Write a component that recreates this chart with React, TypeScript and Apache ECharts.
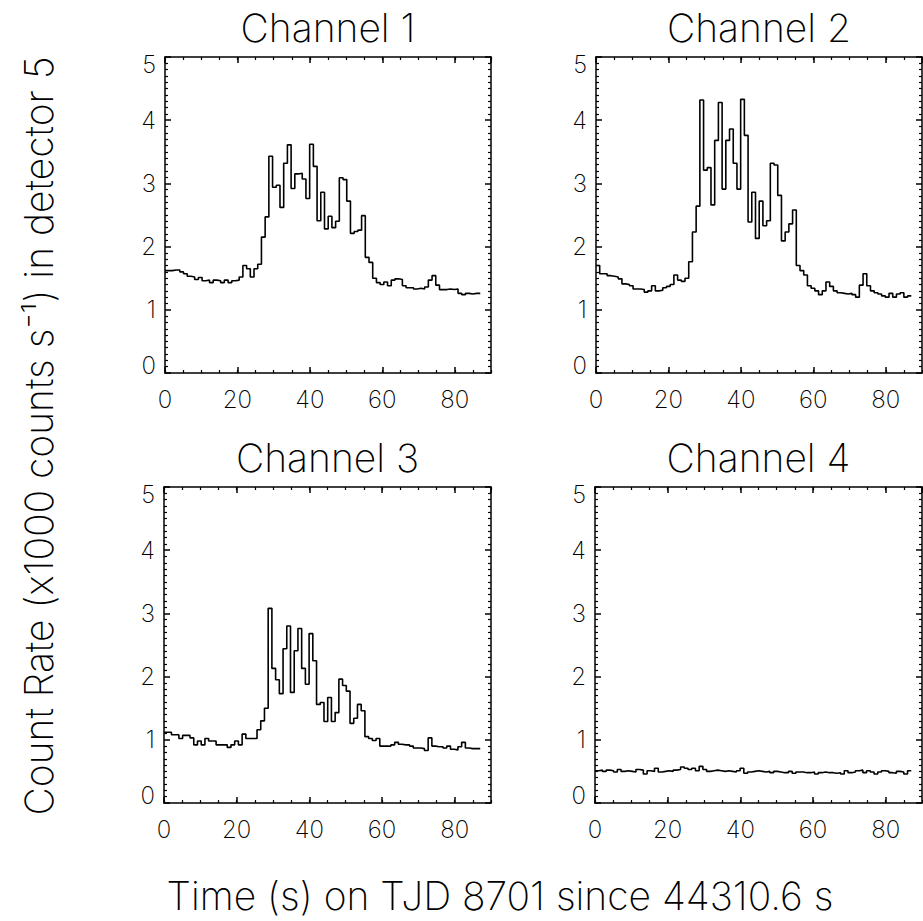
import React, { useEffect, useRef } from 'react';
import * as echarts from 'echarts';

// ---------- data ----------
const BIN_WIDTH = 1.024; // seconds per time bin
const X_MIN = 0;
const X_MAX = 90;
const X_MAJOR = 20;
const X_MINOR = 5;
const Y_MIN = 0;
const Y_MAX = 5;
const Y_MAJOR = 1;

const CHANNEL_TITLES = ['Channel 1', 'Channel 2', 'Channel 3', 'Channel 4'];
const Y_TITLE = 'Count Rate (x1000 counts s\u207B\u00B9) in detector 5';
const X_TITLE = 'Time (s) on TJD 8701 since 44310.6 s';

const CH1 = [
  1.62, 1.62, 1.63, 1.63, 1.60, 1.57, 1.53, 1.52, 1.48, 1.51,
  1.46, 1.47, 1.43, 1.47, 1.46, 1.43, 1.47, 1.43, 1.46, 1.47,
  1.52, 1.70, 1.65, 1.52, 1.65, 1.72, 2.15, 2.47, 3.43, 2.94,
  2.97, 2.62, 3.32, 3.61, 2.92, 3.15, 3.16, 3.07, 2.76, 3.62,
  3.27, 2.41, 2.86, 2.28, 2.48, 2.30, 2.40, 3.09, 3.06, 2.72,
  2.21, 2.24, 2.26, 2.49, 1.83, 1.75, 1.50, 1.43, 1.40, 1.44,
  1.38, 1.47, 1.49, 1.48, 1.38, 1.35, 1.35, 1.33, 1.34, 1.33,
  1.36, 1.47, 1.54, 1.39, 1.32, 1.32, 1.33, 1.32, 1.33, 1.26,
  1.24, 1.26, 1.25, 1.26, 1.26,
];

const CH2 = [
  1.70, 1.57, 1.57, 1.54, 1.53, 1.52, 1.49, 1.41, 1.40, 1.38,
  1.33, 1.33, 1.32, 1.28, 1.30, 1.38, 1.30, 1.31, 1.35, 1.37,
  1.40, 1.55, 1.47, 1.45, 1.50, 1.76, 2.23, 2.64, 4.32, 3.21,
  3.25, 2.66, 3.68, 4.28, 2.91, 3.68, 3.86, 3.32, 2.91, 4.33,
  3.76, 2.39, 2.86, 2.13, 2.72, 2.33, 2.41, 3.32, 3.29, 2.81,
  2.09, 2.23, 2.36, 2.58, 1.70, 1.62, 1.55, 1.38, 1.34, 1.30,
  1.24, 1.30, 1.44, 1.37, 1.30, 1.27, 1.26, 1.25, 1.26, 1.24,
  1.20, 1.39, 1.57, 1.38, 1.30, 1.27, 1.25, 1.22, 1.20, 1.26,
  1.20, 1.25, 1.27, 1.20, 1.22,
];

const CH3 = [
  1.12, 1.12, 1.08, 1.08, 1.02, 1.07, 1.07, 1.03, 0.92, 0.98,
  0.92, 1.02, 0.98, 0.98, 0.92, 0.92, 0.92, 0.88, 0.92, 0.98,
  0.92, 1.09, 1.02, 1.02, 1.02, 1.16, 1.30, 1.50, 3.08, 2.13,
  1.95, 1.73, 2.44, 2.80, 1.75, 2.41, 2.76, 2.13, 1.88, 2.68,
  2.25, 1.56, 1.59, 1.29, 1.67, 1.29, 1.43, 1.96, 1.86, 1.77,
  1.26, 1.34, 1.56, 1.46, 1.05, 1.02, 0.99, 1.02, 0.90, 0.90,
  0.90, 0.92, 0.96, 0.93, 0.92, 0.92, 0.90, 0.87, 0.87, 0.86,
  0.83, 1.03, 0.90, 0.89, 0.89, 0.87, 0.90, 0.85, 0.84, 0.89,
  0.96, 0.87, 0.86, 0.86, 0.86,
];

const CH4 = [
  0.51, 0.52, 0.50, 0.52, 0.51, 0.49, 0.53, 0.50, 0.51, 0.50,
  0.49, 0.53, 0.52, 0.46, 0.51, 0.50, 0.55, 0.49, 0.50, 0.51,
  0.50, 0.52, 0.53, 0.57, 0.55, 0.53, 0.55, 0.51, 0.58, 0.53,
  0.50, 0.51, 0.52, 0.51, 0.50, 0.51, 0.50, 0.49, 0.51, 0.55,
  0.47, 0.49, 0.50, 0.51, 0.50, 0.49, 0.50, 0.48, 0.50, 0.49,
  0.48, 0.48, 0.50, 0.47, 0.49, 0.49, 0.48, 0.48, 0.49, 0.46,
  0.48, 0.49, 0.48, 0.48, 0.47, 0.48, 0.46, 0.51, 0.48, 0.49,
  0.51, 0.52, 0.48, 0.51, 0.49, 0.46, 0.49, 0.51, 0.50, 0.48,
  0.47, 0.50, 0.49, 0.46, 0.51,
];

const CHANNELS = [CH1, CH2, CH3, CH4];

// ---------- layout ----------
const W = 923;
const H = 921;
const PANELS = [
  { left: 165, top: 57, width: 326, height: 316 },
  { left: 596, top: 57, width: 326, height: 316 },
  { left: 164, top: 487, width: 327, height: 316 },
  { left: 595, top: 487, width: 327, height: 316 },
];
const FONT = 'Inter, Roboto, "DejaVu Sans", sans-serif';
const WEIGHT = 250;
const BLACK = '#000';
const TITLE_SIZE = 39;
const TICK_SIZE = 24;

function stepPoints(values: number[]): number[][] {
  const pts = values.map((v, i) => [i * BIN_WIDTH, v]);
  pts.push([values.length * BIN_WIDTH, values[values.length - 1]]);
  return pts;
}

function buildOption() {
  const grid: any[] = [];
  const xAxis: any[] = [];
  const yAxis: any[] = [];
  const series: any[] = [];
  const graphic: any[] = [];

  const lineStyle = { color: BLACK, width: 1.5 };
  const minorStyle = { color: BLACK, width: 1.2 };
  const labelFont = {
    color: BLACK,
    fontSize: TICK_SIZE,
    fontFamily: FONT,
    fontWeight: WEIGHT,
  };

  PANELS.forEach((p, gi) => {
    grid.push({ left: p.left, top: p.top, width: p.width, height: p.height, show: false, containLabel: false });

    const baseX = {
      gridIndex: gi,
      type: 'value',
      min: X_MIN,
      max: X_MAX,
      splitLine: { show: false },
    };
    const bottomMajorIdx = xAxis.length;
    xAxis.push({
      ...baseX,
      position: 'bottom',
      interval: X_MAJOR,
      axisLine: { show: true, onZero: false, lineStyle },
      axisTick: { show: true, inside: true, length: 6, lineStyle },
      axisLabel: { show: true, showMaxLabel: false, margin: 14, ...labelFont },
    });
    xAxis.push({
      ...baseX,
      position: 'bottom',
      interval: X_MINOR,
      axisLine: { show: false, onZero: false },
      axisTick: { show: true, inside: true, length: 3, lineStyle: minorStyle },
      axisLabel: { show: false },
    });
    xAxis.push({
      ...baseX,
      position: 'top',
      interval: X_MAJOR,
      axisLine: { show: true, onZero: false, lineStyle },
      axisTick: { show: true, inside: true, length: 6, lineStyle },
      axisLabel: { show: false },
    });
    xAxis.push({
      ...baseX,
      position: 'top',
      interval: X_MINOR,
      axisLine: { show: false, onZero: false },
      axisTick: { show: true, inside: true, length: 3, lineStyle: minorStyle },
      axisLabel: { show: false },
    });

    const baseY = {
      gridIndex: gi,
      type: 'value',
      min: Y_MIN,
      max: Y_MAX,
      interval: Y_MAJOR,
      splitLine: { show: false },
      minorSplitLine: { show: false },
      axisLine: { show: true, onZero: false, lineStyle },
      axisTick: { show: true, inside: true, length: 6, lineStyle },
      minorTick: { show: true, splitNumber: 10, length: 3, lineStyle: minorStyle },
    };
    const leftIdx = yAxis.length;
    yAxis.push({
      ...baseY,
      position: 'left',
      axisLabel: {
        show: true,
        margin: 9,
        ...labelFont,
        // end labels sit slightly inside the frame, as in the original plot
        formatter: (v: number) => (v === Y_MIN ? `{lo|${v}}` : v === Y_MAX ? `{hi|${v}}` : `{n|${v}}`),
        rich: {
          lo: { ...labelFont, padding: [0, 0, 16, 0] },
          hi: { ...labelFont, padding: [14, 0, 0, 0] },
          n: { ...labelFont },
        },
      },
    });
    yAxis.push({
      ...baseY,
      position: 'right',
      axisLabel: { show: false },
    });

    series.push({
      type: 'line',
      name: CHANNEL_TITLES[gi],
      xAxisIndex: bottomMajorIdx,
      yAxisIndex: leftIdx,
      data: stepPoints(CHANNELS[gi]),
      step: 'end',
      showSymbol: false,
      symbol: 'none',
      lineStyle: { color: BLACK, width: 1.6 },
      silent: true,
      z: 3,
    });

    graphic.push({
      type: 'text',
      x: p.left + p.width / 2,
      y: p.top - 30,
      style: {
        text: CHANNEL_TITLES[gi],
        fill: BLACK,
        font: `${WEIGHT} ${TITLE_SIZE}px ${FONT}`,
        textAlign: 'center',
        textVerticalAlign: 'middle',
      },
    });
  });

  graphic.push({
    type: 'text',
    x: 38,
    y: 436,
    rotation: Math.PI / 2,
    style: {
      text: Y_TITLE,
      fill: BLACK,
      font: `${WEIGHT} ${TITLE_SIZE}px ${FONT}`,
      textAlign: 'center',
      textVerticalAlign: 'middle',
    },
  });
  graphic.push({
    type: 'text',
    x: 500,
    y: 895,
    style: {
      text: X_TITLE,
      fill: BLACK,
      font: `${WEIGHT} ${TITLE_SIZE}px ${FONT}`,
      textAlign: 'center',
      textVerticalAlign: 'middle',
    },
  });

  return {
    animation: false,
    backgroundColor: '#fff',
    grid,
    xAxis,
    yAxis,
    series,
    graphic,
  };
}

export default function App() {
  const ref = useRef<HTMLDivElement>(null);
  useEffect(() => {
    if (!ref.current) return;
    const chart = echarts.init(ref.current, undefined, { renderer: 'svg', width: W, height: H });
    chart.setOption(buildOption() as any);
    return () => chart.dispose();
  }, []);
  return (
    <div
      ref={ref}
      style={{ position: 'fixed', left: 0, top: 0, width: W, height: H, background: '#fff' }}
    />
  );
}
